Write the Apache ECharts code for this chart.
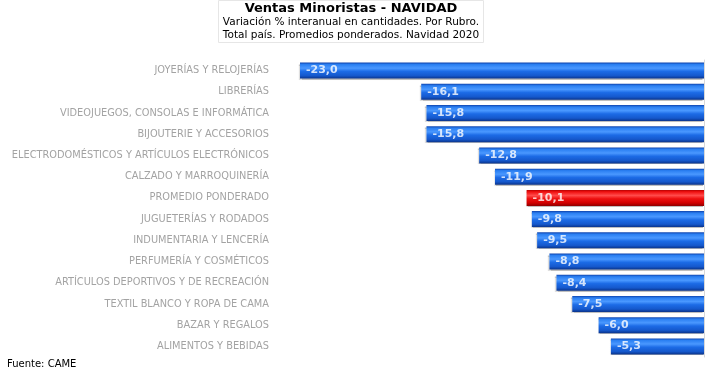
<!DOCTYPE html>
<html>
<head>
<meta charset="utf-8">
<script src="https://cdn.jsdelivr.net/npm/echarts@6/dist/echarts.min.js"></script>
<style>
  html, body { margin: 0; padding: 0; background: #fff; }
  #chart { width: 706px; height: 375px; }
</style>
</head>
<body>
<div id="chart"></div>
<script>
const categories = [
  'JOYERÍAS Y RELOJERÍAS',
  'LIBRERÍAS',
  'VIDEOJUEGOS, CONSOLAS E INFORMÁTICA',
  'BIJOUTERIE Y ACCESORIOS',
  'ELECTRODOMÉSTICOS Y ARTÍCULOS ELECTRÓNICOS',
  'CALZADO Y MARROQUINERÍA',
  'PROMEDIO PONDERADO',
  'JUGUETERÍAS Y RODADOS',
  'INDUMENTARIA Y LENCERÍA',
  'PERFUMERÍA Y COSMÉTICOS',
  'ARTÍCULOS DEPORTIVOS Y DE RECREACIÓN',
  'TEXTIL BLANCO Y ROPA DE CAMA',
  'BAZAR Y REGALOS',
  'ALIMENTOS Y BEBIDAS'
];
const values = [-23.0, -16.1, -15.8, -15.8, -12.8, -11.9, -10.1, -9.8, -9.5, -8.8, -8.4, -7.5, -6.0, -5.3];
const highlightCategory = 'PROMEDIO PONDERADO';

const fmt = v => v.toFixed(1).replace('.', ',');

const blueFill = new echarts.graphic.LinearGradient(0, 0, 0, 1, [
  { offset: 0, color: '#0f44ad' },
  { offset: 0.12, color: '#2a7ff2' },
  { offset: 0.35, color: '#4a98ff' },
  { offset: 0.55, color: '#1c6be6' },
  { offset: 0.82, color: '#1558cc' },
  { offset: 1, color: '#0a338a' }
]);
const redFill = new echarts.graphic.LinearGradient(0, 0, 0, 1, [
  { offset: 0, color: '#b00000' },
  { offset: 0.12, color: '#f01010' },
  { offset: 0.35, color: '#ff4a4a' },
  { offset: 0.55, color: '#ee1010' },
  { offset: 0.82, color: '#d00000' },
  { offset: 1, color: '#900000' }
]);

const chart = echarts.init(document.getElementById('chart'));
chart.setOption({
  animation: false,
  backgroundColor: '#fff',
  title: [
    {
      text: 'Ventas Minoristas - NAVIDAD',
      subtext: 'Variación % interanual en cantidades. Por Rubro.\nTotal país. Promedios ponderados. Navidad 2020',
      left: 346,
      top: 0,
      padding: [1, 5, 1, 5],
      itemGap: 0,
      borderColor: '#e6e6e6',
      borderWidth: 1,
      textAlign: 'center',
      textStyle: { fontFamily: 'DejaVu Sans', fontSize: 13, fontWeight: 'bold', color: '#000', lineHeight: 15 },
      subtextStyle: { fontFamily: 'DejaVu Sans', fontSize: 10.5, color: '#000', lineHeight: 13 }
    },
    {
      text: 'Fuente: CAME',
      left: 7,
      top: 359,
      padding: 0,
      textStyle: { fontFamily: 'DejaVu Sans', fontSize: 10, fontWeight: 'normal', color: '#000' }
    }
  ],
  grid: { left: 300, right: 2, top: 60, bottom: 18, outerBoundsMode: 'none' },
  xAxis: { type: 'value', min: -23, max: 0, show: false },
  yAxis: [
    {
      type: 'category',
      inverse: true,
      data: categories,
      position: 'right',
      axisLine: { show: true, lineStyle: { color: '#d8d8d8' } },
      axisTick: { show: false },
      axisLabel: { show: false }
    },
    {
      type: 'category',
      inverse: true,
      data: categories,
      position: 'left',
      offset: 31,
      axisLine: { show: false },
      axisTick: { show: false },
      axisLabel: {
        margin: 0,
        color: '#a3a3a3',
        fontFamily: 'DejaVu Sans',
        fontSize: 9.8
      }
    }
  ],
  series: [
    {
      type: 'bar',
      barWidth: 16,
      data: values.map((v, i) => ({
        value: v,
        itemStyle: { color: categories[i] === highlightCategory ? redFill : blueFill }
      })),
      itemStyle: {
        shadowColor: 'rgba(0,0,0,0.25)',
        shadowBlur: 1,
        shadowOffsetX: -1,
        shadowOffsetY: 1
      }
    },
    {
      // value labels at the left end of each bar
      type: 'scatter',
      symbolSize: 0,
      silent: true,
      data: values,
      label: {
        show: true,
        position: 'right',
        distance: 6,
        formatter: p => fmt(p.value),
        color: '#fff',
        fontFamily: 'DejaVu Sans',
        fontWeight: 'bold',
        fontSize: 11
      }
    }
  ]
});
</script>
</body>
</html>
